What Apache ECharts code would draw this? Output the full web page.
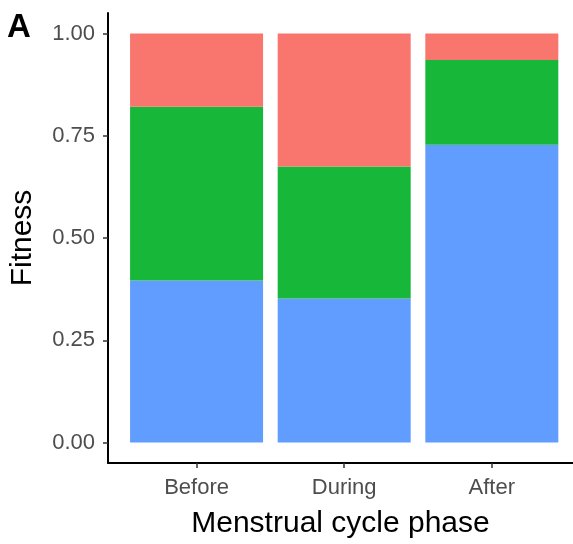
<!DOCTYPE html>
<html>
<head>
<meta charset="utf-8">
<script src="https://cdn.jsdelivr.net/npm/echarts@6/dist/echarts.min.js"></script>
<style>
  html, body { margin: 0; padding: 0; background: #fff; }
  #main { width: 573px; height: 544px; }
</style>
</head>
<body>
<div id="main"></div>
<script>
// data
const categories = ["Before", "During", "After"];
const blueValues = [0.396, 0.352, 0.728];
const greenValues = [0.425, 0.323, 0.207];
const redValues = [0.179, 0.325, 0.065];
const yTicks = [0, 0.25, 0.5, 0.75, 1];

const font = "Liberation Sans, Arial, Helvetica, sans-serif";
const positions = categories.map((c, i) => i + 1);

// value first so the stack runs on y
function toPoints(vals) {
  return vals.map((v, i) => [v, positions[i]]);
}

const chart = echarts.init(document.getElementById("main"));

function barSeries(vals, color) {
  return {
    type: "bar",
    stack: "fit",
    barWidth: 133,
    dimensions: ["fitness", "phase"],
    encode: { x: 1, y: 0 },
    data: toPoints(vals),
    itemStyle: { color: color },
  };
}

const option = {
  animation: false,
  backgroundColor: "#ffffff",
  textStyle: { fontFamily: font },
  grid: { left: 107, right: 0, top: 13, bottom: 80 },
  graphic: [
    {
      type: "text",
      left: 7,
      top: 11,
      style: {
        text: "A",
        fontSize: 33,
        fontWeight: "bold",
        fontFamily: font,
        fill: "#000",
      },
    },
  ],
  xAxis: {
    type: "value",
    min: 0.4,
    max: 3.55,
    splitLine: { show: false },
    axisLine: { show: true, onZero: false, lineStyle: { color: "#000", width: 2 } },
    axisTick: {
      show: true,
      length: 5,
      customValues: positions,
      lineStyle: { color: "#333", width: 1.5 },
    },
    axisLabel: {
      customValues: positions,
      margin: 14,
      fontSize: 22,
      color: "#4d4d4d",
      fontFamily: font,
      formatter: (v) => categories[Math.round(v) - 1],
    },
    name: "Menstrual cycle phase",
    nameLocation: "middle",
    nameGap: 46,
    nameTextStyle: { fontSize: 30, color: "#000", fontFamily: font },
  },
  yAxis: {
    type: "value",
    min: -0.05,
    max: 1.05,
    splitLine: { show: false },
    axisLine: { show: true, onZero: false, lineStyle: { color: "#000", width: 2 } },
    axisTick: {
      show: true,
      length: 5,
      customValues: yTicks,
      lineStyle: { color: "#333", width: 1.5 },
    },
    axisLabel: {
      customValues: yTicks,
      margin: 13,
      fontSize: 22,
      color: "#4d4d4d",
      fontFamily: font,
      formatter: (v) => v.toFixed(2),
    },
    name: "Fitness",
    nameLocation: "middle",
    nameGap: 70,
    nameRotate: 90,
    nameTextStyle: { fontSize: 30, color: "#000", fontFamily: font },
  },
  series: [
    barSeries(blueValues, "#619CFF"),
    barSeries(greenValues, "#17B83A"),
    barSeries(redValues, "#F8766D"),
  ],
};

chart.setOption(option);
</script>
</body>
</html>
